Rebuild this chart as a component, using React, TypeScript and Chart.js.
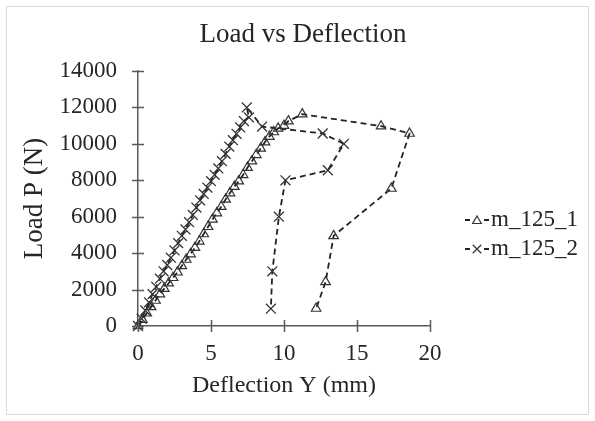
import React, { useEffect, useRef } from "react";
import { Chart, registerables } from "chart.js";

Chart.register(...registerables);

const TITLE = "Load vs Deflection";
const X_TITLE = "Deflection Y (mm)";
const Y_TITLE = "Load P (N)";
const SERIES_NAMES = ["m_125_1", "m_125_2"];
const X_TICKS = [0, 5, 10, 15, 20];
const Y_TICKS = [0, 2000, 4000, 6000, 8000, 10000, 12000, 14000];

// m_125_1 (triangles)
const m1X = [
  0, 0.3, 0.6, 0.9, 1.2, 1.5, 1.8, 2.1, 2.4, 2.7, 3.0, 3.3, 3.6, 3.9, 4.2, 4.5, 4.8,
  5.1, 5.4, 5.7, 6.0, 6.3, 6.6, 6.9, 7.2, 7.5, 7.8, 8.1, 8.4, 8.7, 9.0, 9.3, 9.6,
  10.0, 10.3, 11.25, 16.65, 18.6, 17.35, 13.4, 12.85, 12.2,
];
const m1Y = [
  0, 350, 700, 1050, 1400, 1750, 2050, 2350, 2650, 2950, 3300, 3650, 3950, 4300, 4650,
  5050, 5450, 5850, 6200, 6550, 6950, 7300, 7650, 7950, 8300, 8700, 9050, 9400, 9750,
  10100, 10400, 10650, 10850, 11000, 11250, 11630, 10970, 10570, 7550, 4950, 2420, 960,
];

// m_125_2 (crosses)
const m2X = [
  0, 0.25, 0.5, 0.75, 1.0, 1.25, 1.5, 1.75, 2.0, 2.25, 2.5, 2.75, 3.0, 3.25, 3.5, 3.75,
  4.0, 4.25, 4.5, 4.75, 5.0, 5.25, 5.5, 5.75, 6.0, 6.25, 6.5, 6.75, 7.0, 7.25, 7.6, 7.45,
  8.5, 12.65, 14.1, 13.0, 10.1, 9.65, 9.2, 9.1,
];
const m2Y = [
  0, 400, 850, 1300, 1750, 2150, 2600, 3000, 3350, 3750, 4150, 4550, 4950, 5300, 5700,
  6100, 6500, 6900, 7250, 7600, 7950, 8300, 8650, 9050, 9450, 9850, 10200, 10550, 10900,
  11250, 11450, 12000, 10950, 10570, 10000, 8550, 8000, 6000, 3000, 950,
];

const SERIF = '"Liberation Serif", "Times New Roman", serif';
const INK = "#262626";
const AXIS = "#5a5a5a";

function toPoints(xs: number[], ys: number[]) {
  return xs.map((x, i) => ({ x, y: ys[i] }));
}

function drawTriangle(ctx: CanvasRenderingContext2D, cx: number, cy: number, r: number) {
  ctx.beginPath();
  ctx.moveTo(cx, cy - r);
  ctx.lineTo(cx + r * 0.866, cy + r * 0.5);
  ctx.lineTo(cx - r * 0.866, cy + r * 0.5);
  ctx.closePath();
  ctx.stroke();
}

function drawCross(ctx: CanvasRenderingContext2D, cx: number, cy: number, r: number) {
  const d = r * 0.7071;
  ctx.beginPath();
  ctx.moveTo(cx - d, cy - d);
  ctx.lineTo(cx + d, cy + d);
  ctx.moveTo(cx + d, cy - d);
  ctx.lineTo(cx - d, cy + d);
  ctx.stroke();
}

const decorPlugin = {
  id: "decor",
  beforeDraw(chart: any) {
    const ctx = chart.ctx as CanvasRenderingContext2D;
    ctx.save();
    ctx.fillStyle = "#ffffff";
    ctx.fillRect(0, 0, chart.width, chart.height);
    ctx.strokeStyle = "#d9d9d9";
    ctx.lineWidth = 1;
    ctx.strokeRect(6.5, 6.5, chart.width - 13, chart.height - 13);
    ctx.restore();
  },
  afterDraw(chart: any) {
    const ctx = chart.ctx as CanvasRenderingContext2D;
    const area = chart.chartArea;
    const xs = chart.scales.x;
    const ys = chart.scales.y;
    ctx.save();
    // title
    ctx.fillStyle = INK;
    ctx.font = `27px ${SERIF}`;
    ctx.textAlign = "center";
    ctx.textBaseline = "alphabetic";
    ctx.fillText(TITLE, 303, 42);

    // crossing tick marks
    ctx.strokeStyle = AXIS;
    ctx.lineWidth = 1.5;
    ctx.beginPath();
    Y_TICKS.forEach((v) => {
      const py = Math.round(ys.getPixelForValue(v)) + 0.5;
      ctx.moveTo(area.left - 6, py);
      ctx.lineTo(area.left + 6, py);
    });
    X_TICKS.forEach((v) => {
      const px = Math.round(xs.getPixelForValue(v)) + 0.5;
      ctx.moveTo(px, area.bottom - 6);
      ctx.lineTo(px, area.bottom + 6);
    });
    ctx.stroke();

    // legend
    const rows = [220, 249];
    rows.forEach((y, i) => {
      ctx.strokeStyle = "#222";
      ctx.lineWidth = 1.8;
      ctx.setLineDash([]);
      ctx.beginPath();
      ctx.moveTo(465, y);
      ctx.lineTo(470, y);
      ctx.moveTo(484, y);
      ctx.lineTo(489, y);
      ctx.stroke();
      ctx.lineWidth = 1.2;
      ctx.strokeStyle = "#333";
      if (i === 0) drawTriangle(ctx, 477, y + 1, 5);
      else drawCross(ctx, 477, y, 6);
      ctx.fillStyle = INK;
      ctx.font = `23px ${SERIF}`;
      ctx.textAlign = "left";
      ctx.textBaseline = "middle";
      ctx.fillText(SERIES_NAMES[i], 491, y);
    });
    ctx.restore();
  },
};

export default function App() {
  const ref = useRef<HTMLCanvasElement | null>(null);

  useEffect(() => {
    document.body.style.margin = "0";
    const canvas = ref.current;
    if (!canvas) return;
    const chart = new Chart(canvas, {
      type: "scatter",
      data: {
        datasets: [
          {
            label: SERIES_NAMES[0],
            data: toPoints(m1X, m1Y),
            showLine: true,
            borderColor: "#222",
            borderWidth: 1.8,
            borderDash: [6, 4],
            pointStyle: "triangle",
            pointRadius: 5.5,
            pointBorderWidth: 1.2,
            pointBorderColor: "#333",
            pointBackgroundColor: "rgba(255,255,255,0)",
            tension: 0,
            clip: false,
          } as any,
          {
            label: SERIES_NAMES[1],
            data: toPoints(m2X, m2Y),
            showLine: true,
            borderColor: "#222",
            borderWidth: 1.8,
            borderDash: [6, 4],
            pointStyle: "crossRot",
            pointRadius: 7,
            pointBorderWidth: 1.3,
            pointBorderColor: "#333",
            pointBackgroundColor: "rgba(255,255,255,0)",
            tension: 0,
            clip: false,
          } as any,
        ],
      },
      options: {
        responsive: false,
        animation: false,
        devicePixelRatio: 1,
        layout: { padding: { top: 71, right: 165, bottom: 0, left: 0 } },
        plugins: {
          legend: { display: false },
          title: { display: false },
          tooltip: { enabled: false },
        },
        scales: {
          x: {
            type: "linear",
            min: 0,
            max: 20,
            afterBuildTicks: (s: any) => {
              s.ticks = X_TICKS.map((v) => ({ value: v }));
            },
            afterFit: (s: any) => {
              s.height = 95;
            },
            grid: { display: false, drawTicks: false },
            border: { display: true, color: AXIS, width: 1.5 },
            ticks: {
              padding: 14,
              color: INK,
              font: { family: SERIF, size: 23 },
              autoSkip: false,
              maxRotation: 0,
              callback: (v: any) => String(v),
            },
            title: {
              display: true,
              text: X_TITLE,
              color: INK,
              font: { family: SERIF, size: 24, weight: "normal" },
              padding: 21,
            },
          },
          y: {
            type: "linear",
            min: 0,
            max: 14000,
            afterBuildTicks: (s: any) => {
              s.ticks = Y_TICKS.map((v) => ({ value: v }));
            },
            afterFit: (s: any) => {
              s.width = 138;
            },
            grid: { display: false, drawTicks: false },
            border: { display: true, color: AXIS, width: 1.5 },
            ticks: {
              padding: 21,
              color: INK,
              font: { family: SERIF, size: 23 },
              autoSkip: false,
              callback: (v: any) => String(v),
            },
            title: {
              display: true,
              text: Y_TITLE,
              color: INK,
              font: { family: SERIF, size: 27, weight: "normal" },
              padding: 19,
            },
          },
        },
      } as any,
      plugins: [decorPlugin],
    });
    return () => chart.destroy();
  }, []);

  return (
    <div style={{ width: 595, height: 421 }}>
      <canvas ref={ref} width={595} height={421} style={{ width: 595, height: 421, display: "block" }} />
    </div>
  );
}
